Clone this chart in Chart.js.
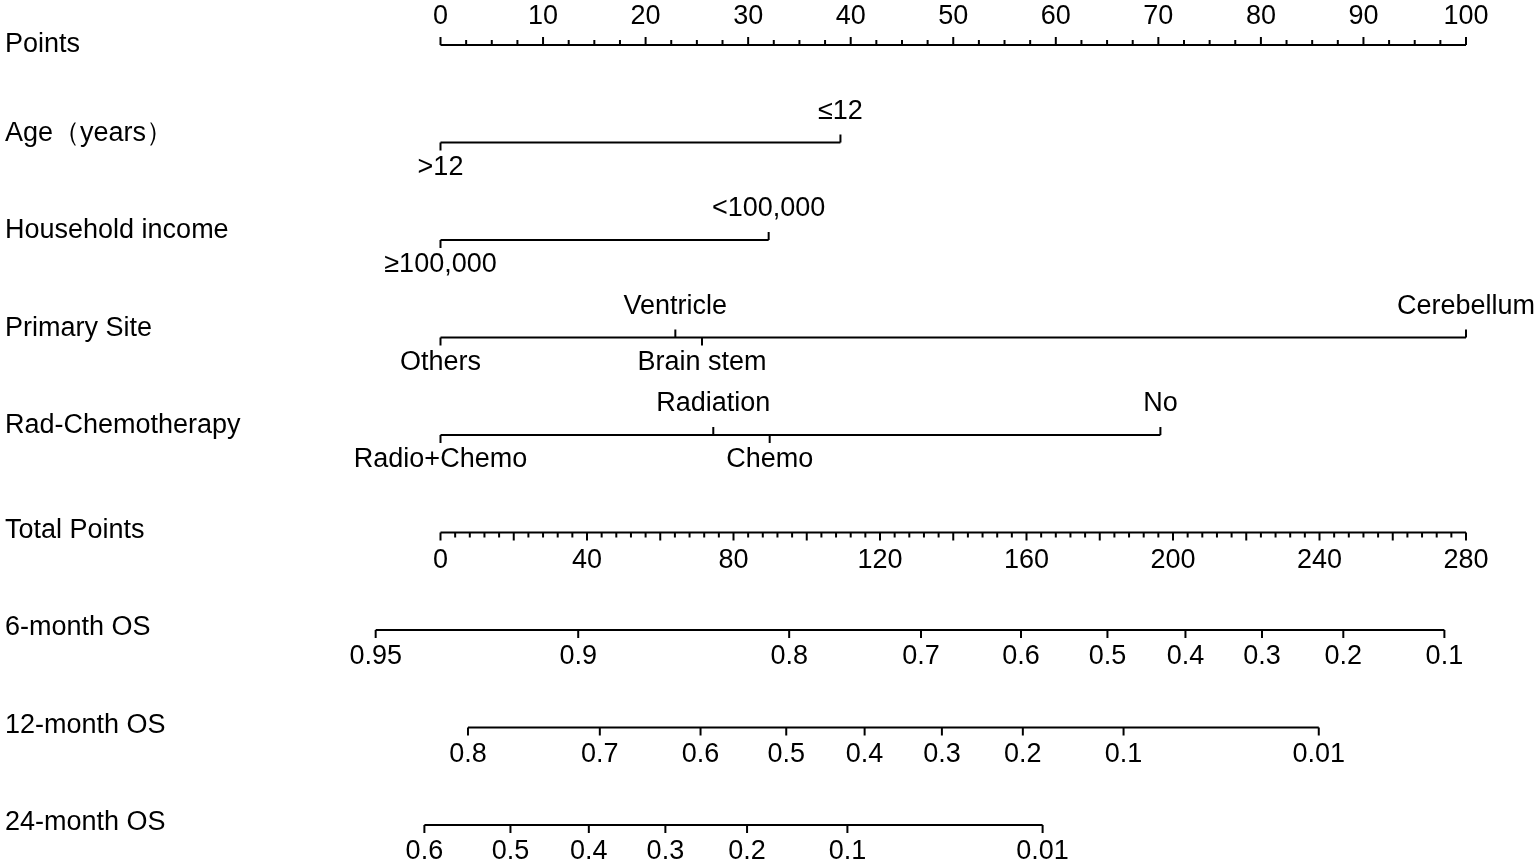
<!DOCTYPE html>
<html>
<head>
<meta charset="utf-8">
<script src="https://cdn.jsdelivr.net/npm/chart.js@4.4.1/dist/chart.umd.min.js"></script>
<style>
  html, body { margin: 0; padding: 0; background: #fff; }
  canvas { display: block; }
</style>
</head>
<body>
<canvas id="nomo" width="1535" height="864"></canvas>
<script>
// ---- data ----
const rowNames = ['Points', 'Age（years）', 'Household income', 'Primary Site', 'Rad-Chemotherapy',
  'Total Points', '6-month OS', '12-month OS', '24-month OS'];

const pointLabels = [0, 10, 20, 30, 40, 50, 60, 70, 80, 90, 100];
const totalLabels = [0, 40, 80, 120, 160, 200, 240, 280];

const ageLevels = ['>12', '≤12'];
const agePoints = [0, 39];
const incomeLevels = ['≥100,000', '<100,000'];
const incomePoints = [0, 32];
const siteLevels = ['Others', 'Ventricle', 'Brain stem', 'Cerebellum'];
const sitePoints = [0, 22.9, 25.5, 100];
const radLevels = ['Radio+Chemo', 'Radiation', 'Chemo', 'No'];
const radPoints = [0, 26.6, 32.1, 70.2];

// survival probabilities and the total points they sit at
const os6Labels = ['0.95', '0.9', '0.8', '0.7', '0.6', '0.5', '0.4', '0.3', '0.2', '0.1'];
const os6Total = [-17.7, 37.6, 95.2, 131.2, 158.5, 182.1, 203.4, 224.3, 246.5, 274.1];
const os12Labels = ['0.8', '0.7', '0.6', '0.5', '0.4', '0.3', '0.2', '0.1', '0.01'];
const os12Total = [7.5, 43.5, 71.0, 94.4, 115.8, 136.9, 159.0, 186.5, 239.8];
const os24Labels = ['0.6', '0.5', '0.4', '0.3', '0.2', '0.1', '0.01'];
const os24Total = [-4.4, 19.1, 40.5, 61.4, 83.7, 111.1, 164.4];

// ---- layout ----
const W = 1535, H = 864;
const X0 = 440.5, PX_PER_POINT = 10.255;   // where points 0 sits, pixels per point
const Y0 = 45, ROW_H = 97.5;
const TOTAL_PER_POINT = 2.8;               // 280 total points over 100 points
const FONT = '27px "Liberation Sans", Arial, sans-serif';

const xMin = -X0 / PX_PER_POINT, xMax = (W - X0) / PX_PER_POINT;

const varRows = [
  { row: 1, levels: ageLevels, pts: agePoints },
  { row: 2, levels: incomeLevels, pts: incomePoints },
  { row: 3, levels: siteLevels, pts: sitePoints },
  { row: 4, levels: radLevels, pts: radPoints }
];
const osRows = [
  { row: 6, labels: os6Labels, total: os6Total },
  { row: 7, labels: os12Labels, total: os12Total },
  { row: 8, labels: os24Labels, total: os24Total }
];

function seg(row, a, b, axis) {
  return {
    type: 'line', xAxisID: axis, yAxisID: 'y',
    data: [{ x: a, y: row }, { x: b, y: row }],
    borderColor: '#000', borderWidth: 2, pointRadius: 0, clip: false
  };
}

const datasets = [
  seg(0, pointLabels[0], pointLabels[pointLabels.length - 1], 'x'),
  ...varRows.map(r => seg(r.row, Math.min(...r.pts), Math.max(...r.pts), 'x')),
  seg(5, totalLabels[0], totalLabels[totalLabels.length - 1], 'xt'),
  ...osRows.map(r => seg(r.row, r.total[0], r.total[r.total.length - 1], 'xt'))
];

const nomoPlugin = {
  id: 'nomo',
  afterDatasetsDraw(chart) {
    const { ctx, scales: { x, xt, y } } = chart;
    ctx.save();
    ctx.strokeStyle = '#000';
    ctx.fillStyle = '#000';
    ctx.lineWidth = 2;
    ctx.font = FONT;
    const tick = (px, py, len) => { ctx.beginPath(); ctx.moveTo(px, py); ctx.lineTo(px, py + len); ctx.stroke(); };
    const text = (s, px, py, align) => {
      ctx.textAlign = align || 'center'; ctx.textBaseline = 'middle'; ctx.fillText(s, px, py);
    };

    // row names
    rowNames.forEach((n, i) => {
      const isVar = i >= 1 && i <= 4;
      text(n, 5, y.getPixelForValue(i) + (isVar ? -9 : (i === 0 ? 0 : -2)), 'left');
    });

    // Points axis: ticks up, labels above
    const py0 = y.getPixelForValue(0);
    for (let v = pointLabels[0]; v <= pointLabels[pointLabels.length - 1] + 0.01; v += 2.5) {
      const major = pointLabels.includes(v);
      tick(x.getPixelForValue(v), py0, major ? -8 : -5);
    }
    pointLabels.forEach(v => text(String(v), x.getPixelForValue(v), py0 - 28));

    // variable rows: alternating below/above
    varRows.forEach(r => {
      const py = y.getPixelForValue(r.row);
      r.levels.forEach((lab, i) => {
        const px = x.getPixelForValue(r.pts[i]);
        const up = i % 2 === 1;
        tick(px, py, up ? -8 : 8);
        text(lab, px, py + (up ? -31 : 25));
      });
    });

    // Total Points axis: ticks down, labels below
    const py5 = y.getPixelForValue(5);
    for (let v = totalLabels[0]; v <= totalLabels[totalLabels.length - 1] + 0.01; v += 4) {
      tick(xt.getPixelForValue(v), py5, v % 20 === 0 ? 8 : 5);
    }
    totalLabels.forEach(v => text(String(v), xt.getPixelForValue(v), py5 + 28));

    // survival axes
    osRows.forEach(r => {
      const py = y.getPixelForValue(r.row);
      r.total.forEach((t, i) => {
        const px = xt.getPixelForValue(t);
        tick(px, py, 8);
        text(r.labels[i], px, py + 27);
      });
    });
    ctx.restore();
  }
};

new Chart(document.getElementById('nomo'), {
  type: 'line',
  data: { datasets },
  options: {
    responsive: false,
    animation: false,
    parsing: false,
    layout: { padding: 0 },
    plugins: { legend: { display: false }, tooltip: { enabled: false } },
    scales: {
      x: { type: 'linear', display: false, min: xMin, max: xMax },
      xt: { type: 'linear', display: false, min: xMin * TOTAL_PER_POINT, max: xMax * TOTAL_PER_POINT },
      y: { type: 'linear', display: false, reverse: true, min: -Y0 / ROW_H, max: (H - Y0) / ROW_H }
    }
  },
  plugins: [nomoPlugin]
});
</script>
</body>
</html>
